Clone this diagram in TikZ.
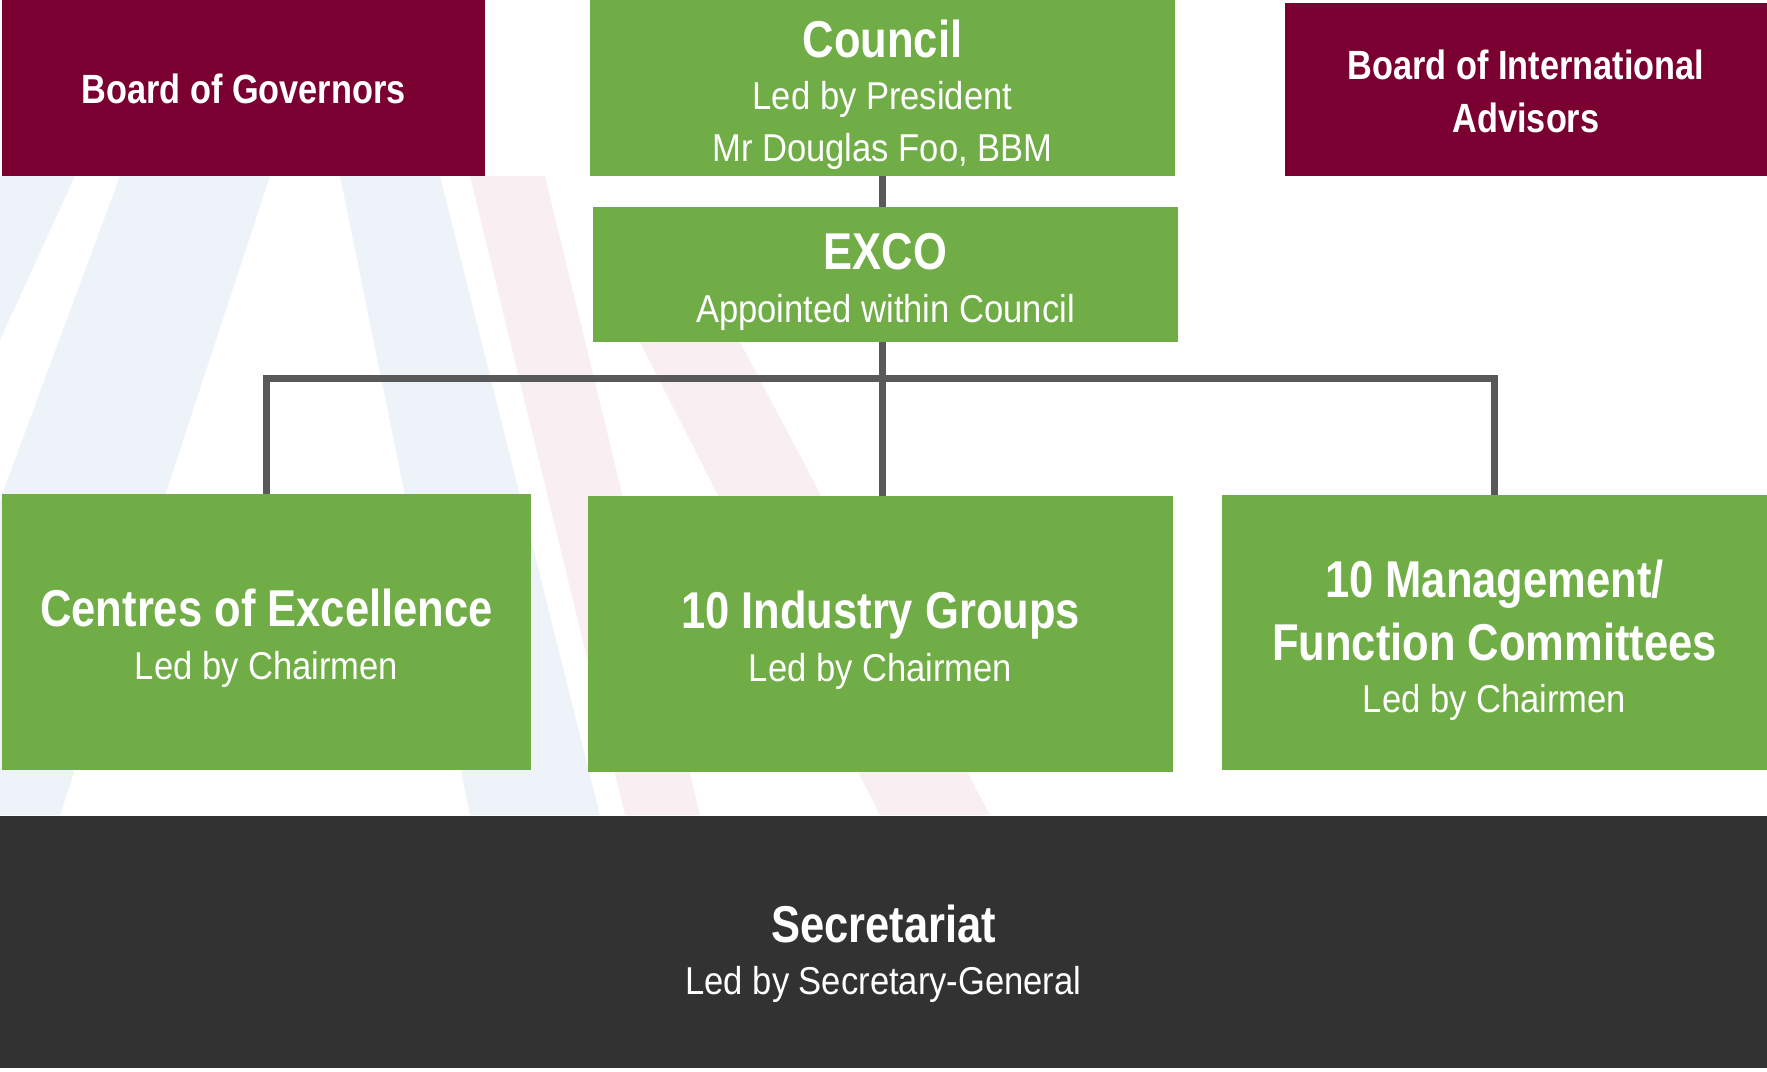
\documentclass[tikz,border=0pt]{standalone}
\usepackage{fontspec}
\setmainfont{Liberation Sans}[FakeStretch=0.89]
\newfontfamily\titlefont{Liberation Sans}[FakeStretch=0.84]
\definecolor{boxgreen}{HTML}{70AD47}
\definecolor{boxred}{HTML}{7A0032}
\definecolor{boxdark}{HTML}{323232}
\definecolor{linegray}{HTML}{595959}
\definecolor{bgblue}{HTML}{DCE7F1}
\definecolor{bgpink}{HTML}{F3DDE3}
\newcommand\ttl[2]{{\titlefont\bfseries\fontsize{#1}{52.5}\selectfont #2}}
\newcommand\topstrut[1]{\rule{0pt}{#1bp}}
\newcommand\botstrut[1]{\rule[-#1bp]{0pt}{#1bp}}
\tikzset{
  box/.style={rectangle, inner sep=0pt, text=white, align=center,
    font=\fontsize{39}{52.5}\selectfont},
  greenbox/.style={box, fill=boxgreen},
  redbox/.style={box, fill=boxred},
  darkbox/.style={box, fill=boxdark},
  conn/.style={draw=linegray, line width=7bp, line join=miter},
  bgband/.style={opacity=0.5},
}
\begin{document}
\begin{tikzpicture}[x=1bp,y=-1bp]
\useasboundingbox (0,0) rectangle (1767,1071);
% faint background bands
\fill[bgblue, bgband] (0,176) -- (75,176) -- (0,340) -- cycle;
\fill[bgblue, bgband] (120,176) -- (270,176) -- (60,815) -- (0,815) -- (0,500) -- cycle;
\fill[bgblue, bgband] (340,176) -- (440,176) -- (600,815) -- (470,815) -- cycle;
\fill[bgpink, bgband] (470,176) -- (545,176) -- (700,815) -- (625,815) -- cycle;
\fill[bgpink, bgband] (640,342) -- (740,342) -- (990,815) -- (880,815) -- cycle;
% boxes
\node[redbox, minimum width=483bp, minimum height=176bp] (gov) at (243.5,88)
  {\topstrut{60}\ttl{41}{Board of Governors}\botstrut{30}};
\node[greenbox, minimum width=585bp, minimum height=176bp] (council) at (882.5,88)
  {\topstrut{56}\ttl{52}{Council}\\Led by President\\Mr Douglas Foo, BBM\botstrut{13}};
\node[redbox, minimum width=482bp, minimum height=173bp] (intl) at (1526,89.5)
  {\topstrut{60}\ttl{41}{Board of International}\\\ttl{41}{Advisors}\botstrut{27}};
\node[greenbox, minimum width=585bp, minimum height=135bp] (exco) at (885.5,274.5)
  {\topstrut{60}\ttl{52}{EXCO}\\Appointed within Council\botstrut{17}};
\node[greenbox, minimum width=529bp, minimum height=276bp] (coe) at (266.5,632)
  {\topstrut{60}\ttl{52}{Centres of Excellence}\\Led by Chairmen\botstrut{18}};
\node[greenbox, minimum width=585bp, minimum height=276bp] (ind) at (880.5,634)
  {\topstrut{60}\ttl{52}{10 Industry Groups}\\Led by Chairmen\botstrut{18}};
\node[greenbox, minimum width=545bp, minimum height=275bp] (mgmt) at (1494.5,632.5)
  {\topstrut{60}\ttl{52}{10 Management/}\\[10.5bp]\ttl{52}{Function Committees}\\Led by Chairmen\botstrut{15}};
\node[darkbox, minimum width=1767bp, minimum height=252bp] (sec) at (883.5,942)
  {\topstrut{70}\ttl{52}{Secretariat}\\Led by Secretary-General\botstrut{17}};
% connectors
\coordinate (bar) at (0,378);
\draw[conn] (council.south) -- (council.south |- exco.north);
\draw[conn] (council.south |- exco.south) -- (council.south |- ind.north);
\draw[conn] (coe.north) -- (coe.north |- bar) -- (mgmt.north |- bar) -- (mgmt.north);
\end{tikzpicture}
\end{document}
